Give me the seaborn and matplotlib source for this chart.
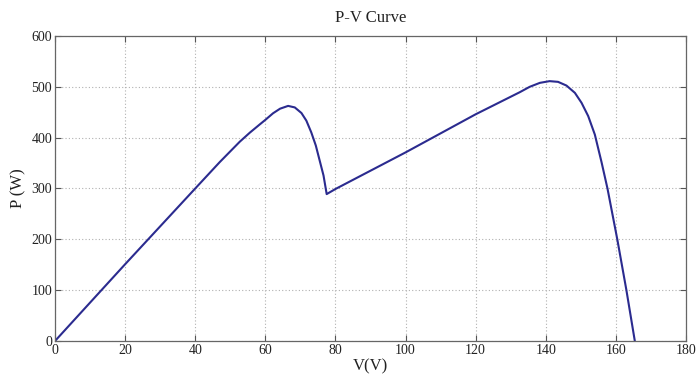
import matplotlib
matplotlib.use("Agg")
import matplotlib.pyplot as plt
import seaborn as sns
import pandas as pd

# Data
voltage = [0, 20, 40, 47.0, 52.7, 55.6, 58.4, 60.0, 62.2, 64.2, 66.5, 68.4,
           70.3, 71.7, 73.1, 74.4, 75.5, 76.6, 77.5, 80.0, 100.0, 120.0,
           132.6, 135.4, 138.3, 141.1, 143.5, 145.9, 148.3, 150.2, 152.1,
           154.0, 155.9, 157.6, 160.4, 163.0, 165.4]
power = [0, 151, 300, 352, 392, 410, 426, 435, 448, 457, 462.5, 459.5,
         448.5, 433.5, 410.5, 384.5, 355, 325.5, 289, 299, 371, 446,
         489.5, 500, 507.8, 511.2, 509.8, 502.5, 488.2, 468.6, 442.5,
         406, 352, 300, 200, 100, 0]

title = "P-V Curve"
xlabel = "V(V)"
ylabel = "P (W)"
xticks = [0, 20, 40, 60, 80, 100, 120, 140, 160, 180]
yticks = [0, 100, 200, 300, 400, 500, 600]

df = pd.DataFrame({"V": voltage, "P": power})

sns.set_theme(style="white")
plt.rcParams["font.family"] = ["Liberation Serif", "DejaVu Serif"]

fig = plt.figure(figsize=(7.0, 3.74), dpi=100)
ax = fig.add_axes([55/700, 33/374, (686-55)/700, (341-36)/374])

sns.lineplot(data=df, x="V", y="P", ax=ax, color="#2b2b8f", linewidth=1.5,
             estimator=None, sort=False)

ax.set_xlim(0, 180)
ax.set_ylim(0, 600)
ax.set_xticks(xticks)
ax.set_yticks(yticks)
ax.set_xticklabels([str(t) for t in xticks], fontsize=10)
ax.set_yticklabels([str(t) for t in yticks], fontsize=10)

ax.grid(True, linestyle=(0, (1, 2)), color="#b0b0b0", linewidth=0.8)
ax.tick_params(direction="in", length=4, width=0.8, color="#555555",
               top=True, right=True, bottom=True, left=True,
               labelcolor="#222222", pad=2)
for s in ax.spines.values():
    s.set_color("#666666")
    s.set_linewidth(0.9)

ax.set_title(title, fontsize=12, pad=10, color="#222222")
ax.set_xlabel(xlabel, fontsize=12, labelpad=1, color="#222222")
ax.set_ylabel(ylabel, fontsize=12, labelpad=4, color="#222222")

fig.savefig("out.png", dpi=100, facecolor="white")
